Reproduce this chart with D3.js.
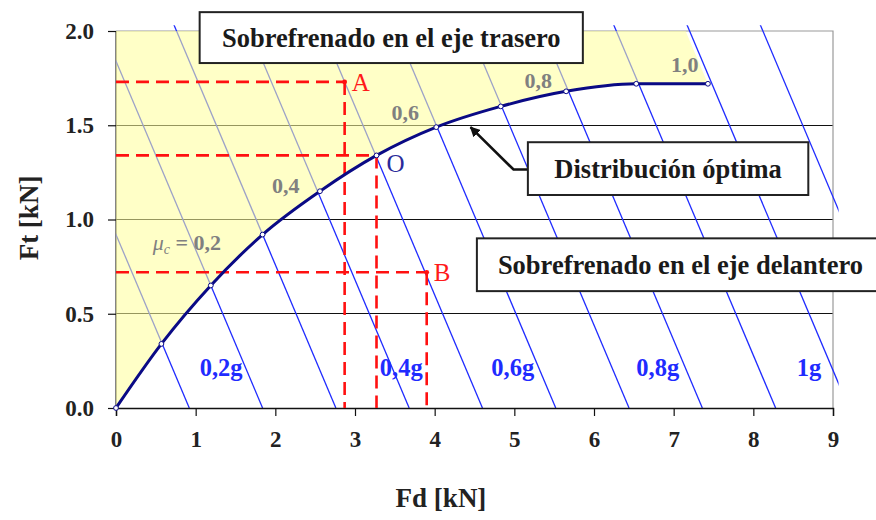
<!DOCTYPE html>
<html><head><meta charset="utf-8">
<script src="https://cdn.jsdelivr.net/npm/d3@7"></script>
<style>body{margin:0;background:#fff} svg{display:block}</style>
</head><body><svg id="chart" width="876" height="520"></svg>
<script>
// ---------- data ----------
const fdTicks = [0, 1, 2, 3, 4, 5, 6, 7, 8, 9];
const ftTicks = [0.0, 0.5, 1.0, 1.5, 2.0];
const ftGrid = [0.5, 1.0, 1.5];
// optimal braking-force distribution (kN)
const curveFd = [0, 0.57, 1.19, 1.84, 2.56, 3.27, 4.02, 4.83, 5.65, 6.53, 7.43];
const curveFt = [0, 0.34, 0.65, 0.92, 1.15, 1.34, 1.49, 1.60, 1.68, 1.72, 1.72];
// constant-deceleration lines: total braking force Fd + Ft (kN), 0.1g .. 1.1g
const decelTotals = [0.92, 1.84, 2.76, 3.68, 4.60, 5.52, 6.44, 7.36, 8.28, 9.20, 10.12];
const decelLabels = ["0,2g", "0,4g", "0,6g", "0,8g", "1g"];
const muLabels = ["0,2", "0,4", "0,6", "0,8", "1,0"];
const pointNames = ["A", "O", "B"];
const pointFd = [2.87, 3.27, 3.90];
const pointFt = [1.73, 1.34, 0.72];
const boxTexts = ["Sobrefrenado en el eje trasero", "Distribución óptima", "Sobrefrenado en el eje delantero"];

// ---------- layout ----------
const svg = d3.select("#chart");
const x = d3.scaleLinear().domain([0, 9]).range([116, 833]);
const y = d3.scaleLinear().domain([0, 2]).range([408, 31]);
const SERIF = "'Liberation Serif','Times New Roman',serif";

svg.append("rect").attr("width", 876).attr("height", 520).attr("fill", "#fff");

// gridlines
svg.append("g").selectAll("line").data(ftGrid).join("line")
  .attr("x1", x(0)).attr("x2", x(9))
  .attr("y1", d => y(d)).attr("y2", d => y(d))
  .attr("stroke", "#111").attr("stroke-width", 1).attr("shape-rendering", "crispEdges");

// plot frame (top / right)
svg.append("path")
  .attr("d", `M${x(0)},${y(2)}H${x(9)}V${y(0)}`)
  .attr("fill", "none").attr("stroke", "#9a9a9a").attr("stroke-width", 1.2);

// y axis domain line
svg.append("line").attr("x1", x(0)).attr("x2", x(0)).attr("y1", y(2)).attr("y2", y(0))
  .attr("stroke", "#333").attr("stroke-width", 1.2);

// deceleration lines
svg.append("clipPath").attr("id", "lineclip").append("rect")
  .attr("x", x(0)).attr("y", y(2.03)).attr("width", x(9.07) - x(0)).attr("height", y(0) - y(2.03));
svg.append("g").attr("clip-path", "url(#lineclip)")
  .selectAll("line").data(decelTotals).join("line")
  .attr("x1", d => x(d - 2.2)).attr("y1", y(2.2))
  .attr("x2", d => x(d)).attr("y2", y(0))
  .attr("stroke", "#1f2bff").attr("stroke-width", 1.3);

// yellow region (over-braking of rear axle)
const curvePts = curveFd.map((d, i) => [d, curveFt[i]]);
const last = curvePts[curvePts.length - 1];
const lastTotal = last[0] + last[1];
const regionPts = [[0, 2]].concat(curvePts).concat([[lastTotal - 2, 2]]);
const lineGen = d3.line().x(d => x(d[0])).y(d => y(d[1]));
svg.append("path").attr("d", lineGen(regionPts) + "Z")
  .attr("fill", "#ffff9c").attr("fill-opacity", 0.56);

// x axis
const xAxis = svg.append("g").attr("transform", `translate(0,${y(0)})`)
  .call(d3.axisBottom(x).tickValues(fdTicks).tickFormat(d3.format("d")).tickSize(8).tickPadding(15));
xAxis.select(".domain").attr("stroke", "#111").attr("stroke-width", 1.4);
xAxis.selectAll(".tick line").attr("stroke", "#111").attr("stroke-width", 1.2);
xAxis.selectAll("text").attr("font-family", SERIF).attr("font-size", 23).attr("font-weight", "bold").attr("fill", "#222");

// y axis ticks
const yAxis = svg.append("g").attr("transform", `translate(${x(0)},0)`)
  .call(d3.axisLeft(y).tickValues(ftTicks).tickFormat(d3.format(".1f")).tickSize(8).tickPadding(14));
yAxis.select(".domain").remove();
yAxis.selectAll(".tick line").attr("stroke", "#111").attr("stroke-width", 1.2);
yAxis.selectAll("text").attr("font-family", SERIF).attr("font-size", 23).attr("font-weight", "bold").attr("fill", "#222");

// axis titles
svg.append("text").attr("x", 441).attr("y", 507).attr("text-anchor", "middle")
  .attr("font-family", SERIF).attr("font-size", 27).attr("font-weight", "bold").attr("fill", "#222")
  .text("Fd [kN]");
svg.append("text").attr("transform", "translate(38,218) rotate(-90)").attr("text-anchor", "middle")
  .attr("font-family", SERIF).attr("font-size", 27).attr("font-weight", "bold").attr("fill", "#222")
  .text("Ft [kN]");

// red dashed construction lines
const pts = pointNames.map((n, i) => ({ n, fd: pointFd[i], ft: pointFt[i] }));
const dash = svg.append("g").attr("stroke", "#ff1010").attr("stroke-width", 2.6)
  .attr("stroke-dasharray", "13,7").attr("fill", "none");
pts.forEach(p => {
  dash.append("line").attr("x1", x(0)).attr("x2", x(p.fd)).attr("y1", y(p.ft)).attr("y2", y(p.ft));
  dash.append("line").attr("x1", x(p.fd)).attr("x2", x(p.fd)).attr("y1", y(p.ft)).attr("y2", y(0));
});
svg.append("g").selectAll("circle").data(pts).join("circle")
  .attr("cx", d => x(d.fd)).attr("cy", d => y(d.ft)).attr("r", 2.4).attr("fill", "#ff1010");

// optimal curve
svg.append("path").attr("d", d3.line().x(d => x(d[0])).y(d => y(d[1])).curve(d3.curveMonotoneX)(curvePts))
  .attr("fill", "none").attr("stroke", "#0a0a85").attr("stroke-width", 3);
svg.append("g").selectAll("circle").data(curvePts).join("circle")
  .attr("cx", d => x(d[0])).attr("cy", d => y(d[1])).attr("r", 2.4)
  .attr("fill", "#fff").attr("stroke", "#0a0a85").attr("stroke-width", 1);

// point labels
const ptLabelStyle = [
  { dx: 7, dy: 9, color: "#ff1a1a" },
  { dx: 10, dy: 17, color: "#2a2a9a" },
  { dx: 7, dy: 9, color: "#ff1a1a" }
];
svg.append("g").selectAll("text").data(pts).join("text")
  .attr("x", (d, i) => x(d.fd) + ptLabelStyle[i].dx)
  .attr("y", (d, i) => y(d.ft) + ptLabelStyle[i].dy)
  .attr("font-family", SERIF).attr("font-size", 25)
  .attr("fill", (d, i) => ptLabelStyle[i].color).text(d => d.n);

// deceleration labels
const decelPos = [[1.32, 0.17], [3.58, 0.17], [4.98, 0.17], [6.80, 0.17], [8.70, 0.17]];
svg.append("g").selectAll("text").data(decelLabels).join("text")
  .attr("x", (d, i) => x(decelPos[i][0])).attr("y", (d, i) => y(decelPos[i][1]))
  .attr("text-anchor", "middle").attr("font-family", SERIF).attr("font-size", 24.5)
  .attr("font-weight", "bold").attr("fill", "#1f2bff").text(d => d);

// adhesion labels (mu)
const muPos = [[0.89, 0.84], [2.13, 1.14], [3.63, 1.53], [5.30, 1.70], [7.14, 1.78]];
const muG = svg.append("g").attr("font-family", SERIF).attr("font-size", 22)
  .attr("font-weight", "bold").attr("fill", "#808080");
muLabels.forEach((lab, i) => {
  const t = muG.append("text").attr("x", x(muPos[i][0])).attr("y", y(muPos[i][1])).attr("text-anchor", "middle");
  if (i === 0) {
    t.append("tspan").attr("font-style", "italic").attr("font-weight", "normal").text("μ");
    t.append("tspan").attr("font-style", "italic").attr("font-weight", "normal").attr("font-size", 14).attr("dy", 4).text("c");
    t.append("tspan").attr("dy", -4).text(" = " + lab);
  } else {
    t.text(lab);
  }
});

// annotation boxes
const boxes = [
  { fd0: 1.05, fd1: 5.86, ft0: 2.10, ft1: 1.83, anchor: "middle" },
  { fd0: 5.17, fd1: 8.69, ft0: 1.41, ft1: 1.13, anchor: "middle" },
  { fd0: 4.53, fd1: 9.6, ft0: 0.90, ft1: 0.62, anchor: "start" }
];
// arrow from "Distribución óptima" to the curve
svg.append("defs").append("marker").attr("id", "ah").attr("viewBox", "0 0 10 10")
  .attr("refX", 9).attr("refY", 5).attr("markerWidth", 4).attr("markerHeight", 4).attr("orient", "auto")
  .append("path").attr("d", "M0,0L10,5L0,10Z").attr("fill", "#111");
svg.append("path")
  .attr("d", `M${x(boxes[1].fd0)},${y(1.265)}H${x(4.99)}L${x(4.45)},${y(1.49)}`)
  .attr("fill", "none").attr("stroke", "#111").attr("stroke-width", 2.6).attr("marker-end", "url(#ah)");

boxes.forEach((b, i) => {
  const bx = x(b.fd0), by = y(b.ft0), bw = x(b.fd1) - x(b.fd0), bh = y(b.ft1) - y(b.ft0);
  svg.append("rect").attr("x", bx).attr("y", by).attr("width", bw).attr("height", bh)
    .attr("fill", "#fff").attr("stroke", "#222").attr("stroke-width", 2);
  svg.append("text")
    .attr("x", b.anchor === "middle" ? bx + bw / 2 : bx + 21)
    .attr("y", by + bh / 2 + 9)
    .attr("text-anchor", b.anchor)
    .attr("font-family", SERIF).attr("font-size", 26.5).attr("font-weight", "bold").attr("fill", "#1a1a1a")
    .text(boxTexts[i]);
});
</script></body></html>
